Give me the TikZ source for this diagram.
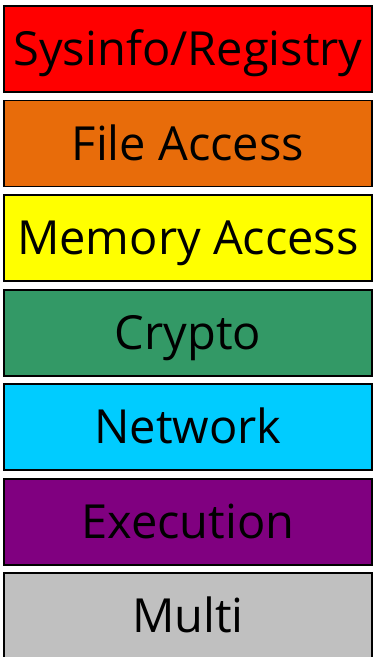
\documentclass[tikz,border=0pt]{standalone}
\usepackage{fontspec}
\setmainfont{Open Sans}
\definecolor{cRed}{HTML}{FF0000}
\definecolor{cOrange}{HTML}{E86C0A}
\definecolor{cYellow}{HTML}{FFFF00}
\definecolor{cGreen}{HTML}{339966}
\definecolor{cCyan}{HTML}{00CCFF}
\definecolor{cPurple}{HTML}{800080}
\definecolor{cGrey}{HTML}{C0C0C0}
\begin{document}
\begin{tikzpicture}[x=1pt,y=-1pt,
  catbox/.style={draw=black,line width=1.5pt,rectangle,minimum width=368pt,minimum height=86pt,
    inner sep=0pt,text height=33.5pt,text depth=0pt,font=\fontsize{47}{51}\selectfont,text=black}]
\useasboundingbox (0,0) rectangle (373,657);
\node[catbox,fill=cRed] (sys) at (188,49) {Sysinfo/Registry};
\node[catbox,fill=cOrange] (file) at (188,143.5) {File Access};
\node[catbox,fill=cYellow] (mem) at (188,238) {Memory Access};
\node[catbox,fill=cGreen] (cry) at (188,333) {Crypto};
\node[catbox,fill=cCyan] (net) at (188,427) {Network};
\node[catbox,fill=cPurple] (exe) at (188,522) {Execution};
\node[catbox,fill=cGrey] (mul) at (188,616) {Multi};
\end{tikzpicture}
\end{document}
